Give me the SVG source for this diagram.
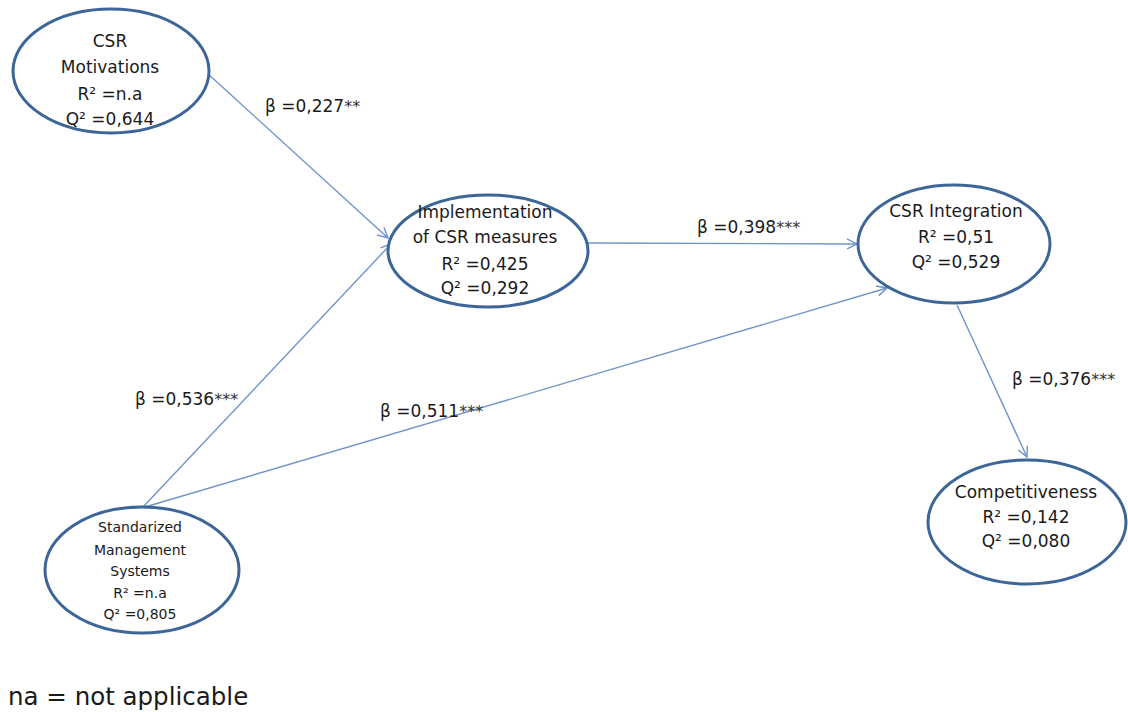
<svg xmlns="http://www.w3.org/2000/svg" width="1128" height="712" viewBox="0 0 1128 712">
<style>
.node ellipse{fill:#fff;stroke:#3c6698;stroke-width:3}
.node text{font-family:"DejaVu Sans",Verdana,sans-serif;font-size:17px;fill:#1a1a1a;text-anchor:middle}
.node.small text{font-size:14px}
.edge{stroke:#6f94c8;stroke-width:1.4;fill:none;marker-end:url(#arr)}
.lbl{font-family:"DejaVu Sans",Verdana,sans-serif;font-size:17px;fill:#1a1a1a}
.star{font-size:16px;fill:#333}
</style>
<defs>
<marker id="arr" viewBox="0 0 12 12" refX="11" refY="6" markerWidth="12" markerHeight="12" markerUnits="userSpaceOnUse" orient="auto">
<path d="M1,1 L11,6 L1,11" fill="none" stroke="#6f94c8" stroke-width="1.4"/>
</marker>
</defs>
<rect width="1128" height="712" fill="#fff"/>
<g id="connectors">
<line class="edge" x1="207" y1="73" x2="388" y2="238"/>
<line class="edge" x1="143" y1="507" x2="391" y2="244"/>
<line class="edge" x1="588" y1="243" x2="857" y2="244"/>
<line class="edge" x1="145" y1="507" x2="887" y2="288"/>
<line class="edge" x1="957" y1="305" x2="1027" y2="457"/>
</g>
<g id="labels">
<text class="lbl" x="265" y="112">β =0,227<tspan class="star">**</tspan></text>
<text class="lbl" x="697" y="233">β =0,398<tspan class="star">***</tspan></text>
<text class="lbl" x="135" y="405">β =0,536<tspan class="star">***</tspan></text>
<text class="lbl" x="380" y="417">β =0,511<tspan class="star">***</tspan></text>
<text class="lbl" x="1012" y="385">β =0,376<tspan class="star">***</tspan></text>
<text x="8" y="705" font-family="DejaVu Sans,Verdana,sans-serif" font-size="24.5" fill="#1a1a1a">na = not applicable</text>
</g>
<g id="csr-motivations" class="node">
<ellipse cx="111" cy="71" rx="98" ry="62"/>
<text x="110" y="47">CSR</text>
<text x="110" y="73">Motivations</text>
<text x="110" y="100">R² =n.a</text>
<text x="110" y="125">Q² =0,644</text>
</g>
<g id="implementation" class="node">
<ellipse cx="488" cy="251" rx="100" ry="56"/>
<text x="485" y="218">Implementation</text>
<text x="485" y="243">of CSR measures</text>
<text x="485" y="270">R² =0,425</text>
<text x="485" y="294">Q² =0,292</text>
</g>
<g id="csr-integration" class="node">
<ellipse cx="954" cy="244" rx="96" ry="59"/>
<text x="956" y="217">CSR Integration</text>
<text x="956" y="243">R² =0,51</text>
<text x="956" y="268">Q² =0,529</text>
</g>
<g id="standardized" class="node small">
<ellipse cx="142" cy="570" rx="97" ry="63"/>
<text x="140" y="532">Standarized</text>
<text x="140" y="555">Management</text>
<text x="140" y="576">Systems</text>
<text x="140" y="598">R² =n.a</text>
<text x="140" y="619">Q² =0,805</text>
</g>
<g id="competitiveness" class="node">
<ellipse cx="1027" cy="522" rx="99" ry="62"/>
<text x="1026" y="498">Competitiveness</text>
<text x="1026" y="523">R² =0,142</text>
<text x="1026" y="547">Q² =0,080</text>
</g>
</svg>
